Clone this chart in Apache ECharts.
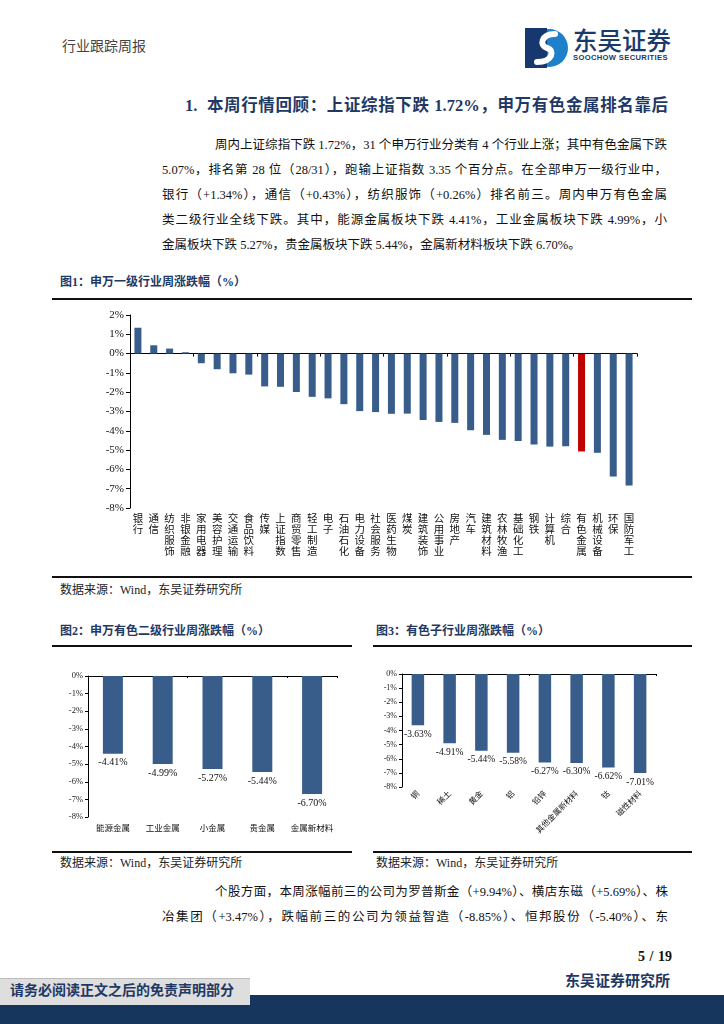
<!DOCTYPE html>
<html><head><meta charset="utf-8">
<script src="https://cdn.jsdelivr.net/npm/echarts@6/dist/echarts.min.js"></script>
<style>
html,body{margin:0;padding:0;background:#fff;}
body{width:724px;height:1024px;position:relative;overflow:hidden;font-family:"Liberation Serif","Noto Sans CJK SC",serif;color:#111;}
.abs{position:absolute;}
.ln{position:absolute;font-size:12.5px;line-height:20px;white-space:nowrap;text-align:justify;text-align-last:justify;color:#111;}
.lnl{text-align:left;text-align-last:left;}
.ft{position:absolute;font-size:12px;font-weight:bold;color:#1F3864;line-height:16px;white-space:nowrap;}
.src{position:absolute;font-size:12px;line-height:16px;color:#222;white-space:nowrap;}
.hr{position:absolute;background:#111;}
</style></head>
<body>
<div class="abs" style="left:62px;top:38px;font-size:14px;color:#444;line-height:18px;">行业跟踪周报</div>
<svg class="abs" style="left:525px;top:28px" width="44" height="40" viewBox="0 0 44 40">
  <circle cx="24" cy="20" r="19" fill="#1E7FCB"/>
  <rect x="0" y="0" width="22" height="40" fill="#16386E"/>
  <path d="M30 6 C16 6 14 18 22 20 C30 22 28 34 12 34" stroke="#fff" stroke-width="6" fill="none" stroke-linecap="round"/>
</svg>
<div class="abs" style="left:573px;top:26px;font-size:24.5px;line-height:28px;color:#1A3A6E;font-family:'Noto Sans CJK SC';font-weight:500;">东吴证券</div>
<div class="abs" style="left:573px;top:53px;font-size:7.6px;line-height:9px;color:#1A3A6E;font-family:'Liberation Sans';font-weight:bold;letter-spacing:0.35px;">SOOCHOW SECURITIES</div>

<div class="abs" style="left:185px;top:95px;width:483px;font-size:16.5px;line-height:22px;font-weight:bold;color:#1F3864;white-space:nowrap;text-align:justify;text-align-last:justify;">1.&nbsp;&nbsp;本周行情回顾：上证综指下跌 1.72%，申万有色金属排名靠后</div>

<div class="ln" style="left:215px;top:135px;width:452px;">周内上证综指下跌 1.72%，31 个申万行业分类有 4 个行业上涨；其中有色金属下跌</div>
<div class="ln" style="left:162px;top:160px;width:505px;">5.07%，排名第 28 位（28/31），跑输上证指数 3.35 个百分点。在全部申万一级行业中，</div>
<div class="ln" style="left:162px;top:185px;width:505px;">银行（+1.34%），通信（+0.43%），纺织服饰（+0.26%）排名前三。周内申万有色金属</div>
<div class="ln" style="left:162px;top:210px;width:505px;">类二级行业全线下跌。其中，能源金属板块下跌 4.41%，工业金属板块下跌 4.99%，小</div>
<div class="ln lnl" style="left:162px;top:235px;">金属板块下跌 5.27%，贵金属板块下跌 5.44%，金属新材料板块下跌 6.70%。</div>

<div class="ft" style="left:60px;top:274px;">图1：申万一级行业周涨跌幅（%）</div>
<div class="hr" style="left:52px;top:298px;width:640px;height:2px;"></div>
<div id="c1" class="abs" style="left:0;top:305px;width:724px;height:268px;"></div>
<div class="hr" style="left:52px;top:576px;width:640px;height:1.5px;"></div>
<div class="src" style="left:60px;top:582px;">数据来源：Wind，东吴证券研究所</div>

<div class="ft" style="left:60px;top:623px;">图2：申万有色二级行业周涨跌幅（%）</div>
<div class="ft" style="left:376px;top:623px;">图3：有色子行业周涨跌幅（%）</div>
<div class="hr" style="left:52px;top:645px;width:300px;height:2px;"></div>
<div class="hr" style="left:373px;top:645px;width:319px;height:2px;"></div>
<div id="c2" class="abs" style="left:52px;top:650px;width:300px;height:198px;"></div>
<div id="c3" class="abs" style="left:373px;top:650px;width:319px;height:198px;"></div>
<div class="hr" style="left:52px;top:851px;width:300px;height:1.5px;"></div>
<div class="hr" style="left:373px;top:851px;width:319px;height:1.5px;"></div>
<div class="src" style="left:60px;top:855px;">数据来源：Wind，东吴证券研究所</div>
<div class="src" style="left:376px;top:855px;">数据来源：Wind，东吴证券研究所</div>

<div class="ln" style="left:215px;top:882px;width:453px;">个股方面，本周涨幅前三的公司为罗普斯金（+9.94%）、横店东磁（+5.69%）、株</div>
<div class="ln" style="left:162px;top:907px;width:506px;">冶集团（+3.47%），跌幅前三的公司为领益智造（-8.85%）、恒邦股份（-5.40%）、东</div>

<div class="abs" style="left:638px;top:948px;font-size:14px;font-weight:bold;line-height:18px;color:#111;word-spacing:1px;">5 / 19</div>
<div class="abs" style="left:565px;top:972px;font-size:15px;font-weight:bold;line-height:19px;color:#1F3864;">东吴证券研究所</div>
<div class="abs" style="left:0;top:995px;width:724px;height:29px;background:#17365D;"></div>
<div class="abs" style="left:0;top:978px;width:250px;height:26px;background:#DEDEDE;border-top:1px solid #bbb;"></div>
<div class="abs" style="left:10px;top:982px;font-size:14px;font-weight:bold;line-height:18px;color:#1F3864;">请务必阅读正文之后的免责声明部分</div>

<script>
var industries = ['银行','通信','纺织服饰','非银金融','家用电器','美容护理','交通运输','食品饮料','传媒','上证指数','商贸零售','轻工制造','电子','石油石化','电力设备','社会服务','医药生物','煤炭','建筑装饰','公用事业','房地产','汽车','建筑材料','农林牧渔','基础化工','钢铁','计算机','综合','有色金属','机械设备','环保','国防军工'];
var industryChange = [1.34,0.43,0.26,0.07,-0.50,-0.81,-1.02,-1.09,-1.70,-1.72,-1.99,-2.24,-2.32,-2.62,-2.98,-3.03,-3.12,-3.11,-3.44,-3.54,-3.59,-3.97,-4.21,-4.47,-4.53,-4.71,-4.82,-4.80,-5.07,-5.14,-6.37,-6.83];
var highlight = '有色金属';

var secondLevel = ['能源金属','工业金属','小金属','贵金属','金属新材料'];
var secondChange = [-4.41,-4.99,-5.27,-5.44,-6.70];

var subIndustry = ['铜','稀土','黄金','铝','铅锌','其他金属新材料','钴','磁性材料'];
var subChange = [-3.63,-4.91,-5.44,-5.58,-6.27,-6.30,-6.62,-7.01];

var BLUE = '#385D8A', RED = '#C00000';
var numFont = 'Liberation Serif';
var cjkFont = 'Noto Sans CJK SC';

function pct(v){ return v + '%'; }

var c1 = echarts.init(document.getElementById('c1'));
c1.setOption({
  animation:false,
  grid:{left:130,right:87,top:10,height:193},
  xAxis:[
    {type:'category',data:industries,
     axisLine:{onZero:true,lineStyle:{color:'#000',width:1}},
     axisTick:{show:true,length:3,lineStyle:{color:'#000'}},
     axisLabel:{show:false},splitLine:{show:false}},
    {type:'category',data:industries,position:'bottom',
     axisLine:{show:false,onZero:false},axisTick:{show:false},
     axisLabel:{interval:0,margin:5,fontSize:10.5,lineHeight:11,color:'#111',fontFamily:cjkFont,
       formatter:function(s){return s.split('').join('\n');}}}
  ],
  yAxis:{type:'value',min:-8,max:2,interval:1,
    axisLine:{show:true,lineStyle:{color:'#000'}},
    axisTick:{show:true,length:4,lineStyle:{color:'#000'}},
    splitLine:{show:false},
    axisLabel:{formatter:pct,fontFamily:numFont,fontSize:11,color:'#111',margin:6}},
  series:[{type:'bar',xAxisIndex:0,barWidth:7,
    data:industryChange.map(function(v,i){return {value:v,itemStyle:{color:industries[i]===highlight?RED:BLUE}};})}]
});

function smallChart(id, cats, vals, opt){
  var c = echarts.init(document.getElementById(id));
  c.setOption({
    animation:false,
    grid:opt.grid,
    xAxis:[
      {type:'category',data:cats,
       axisLine:{onZero:true,lineStyle:{color:'#000'}},
       axisTick:{show:true,length:2,lineStyle:{color:'#000'}},
       axisLabel:{show:false}},
      {type:'category',data:cats,position:'bottom',
       axisLine:{show:false,onZero:false},axisTick:{show:false},
       axisLabel:{interval:0,margin:opt.labelMargin,fontSize:opt.catFont,color:'#111',fontFamily:cjkFont,rotate:opt.rotate||0}}
    ],
    yAxis:{type:'value',min:-8,max:0,interval:1,
      axisLine:{show:true,lineStyle:{color:'#000'}},
      axisTick:{show:true,length:3,lineStyle:{color:'#000'}},
      splitLine:{show:false},
      axisLabel:{formatter:pct,fontFamily:numFont,fontSize:opt.yFont,color:'#222',margin:5}},
    series:[{type:'bar',xAxisIndex:0,barWidth:opt.barWidth,data:vals,
      itemStyle:{color:BLUE},
      label:{show:true,position:'bottom',distance:4,fontFamily:numFont,fontSize:opt.valFont,color:'#111',
        formatter:function(p){return p.value.toFixed(2)+'%';}}}]
  });
}
smallChart('c2', secondLevel, secondChange, {grid:{left:36,right:15,top:26,height:141},labelMargin:7,catFont:8.5,yFont:8.5,barWidth:20,valFont:10});
smallChart('c3', subIndustry, subChange, {grid:{left:29,right:36,top:24,height:113},labelMargin:5,catFont:8,yFont:8,barWidth:12.5,valFont:9.5,rotate:45});
</script>
</body></html>
